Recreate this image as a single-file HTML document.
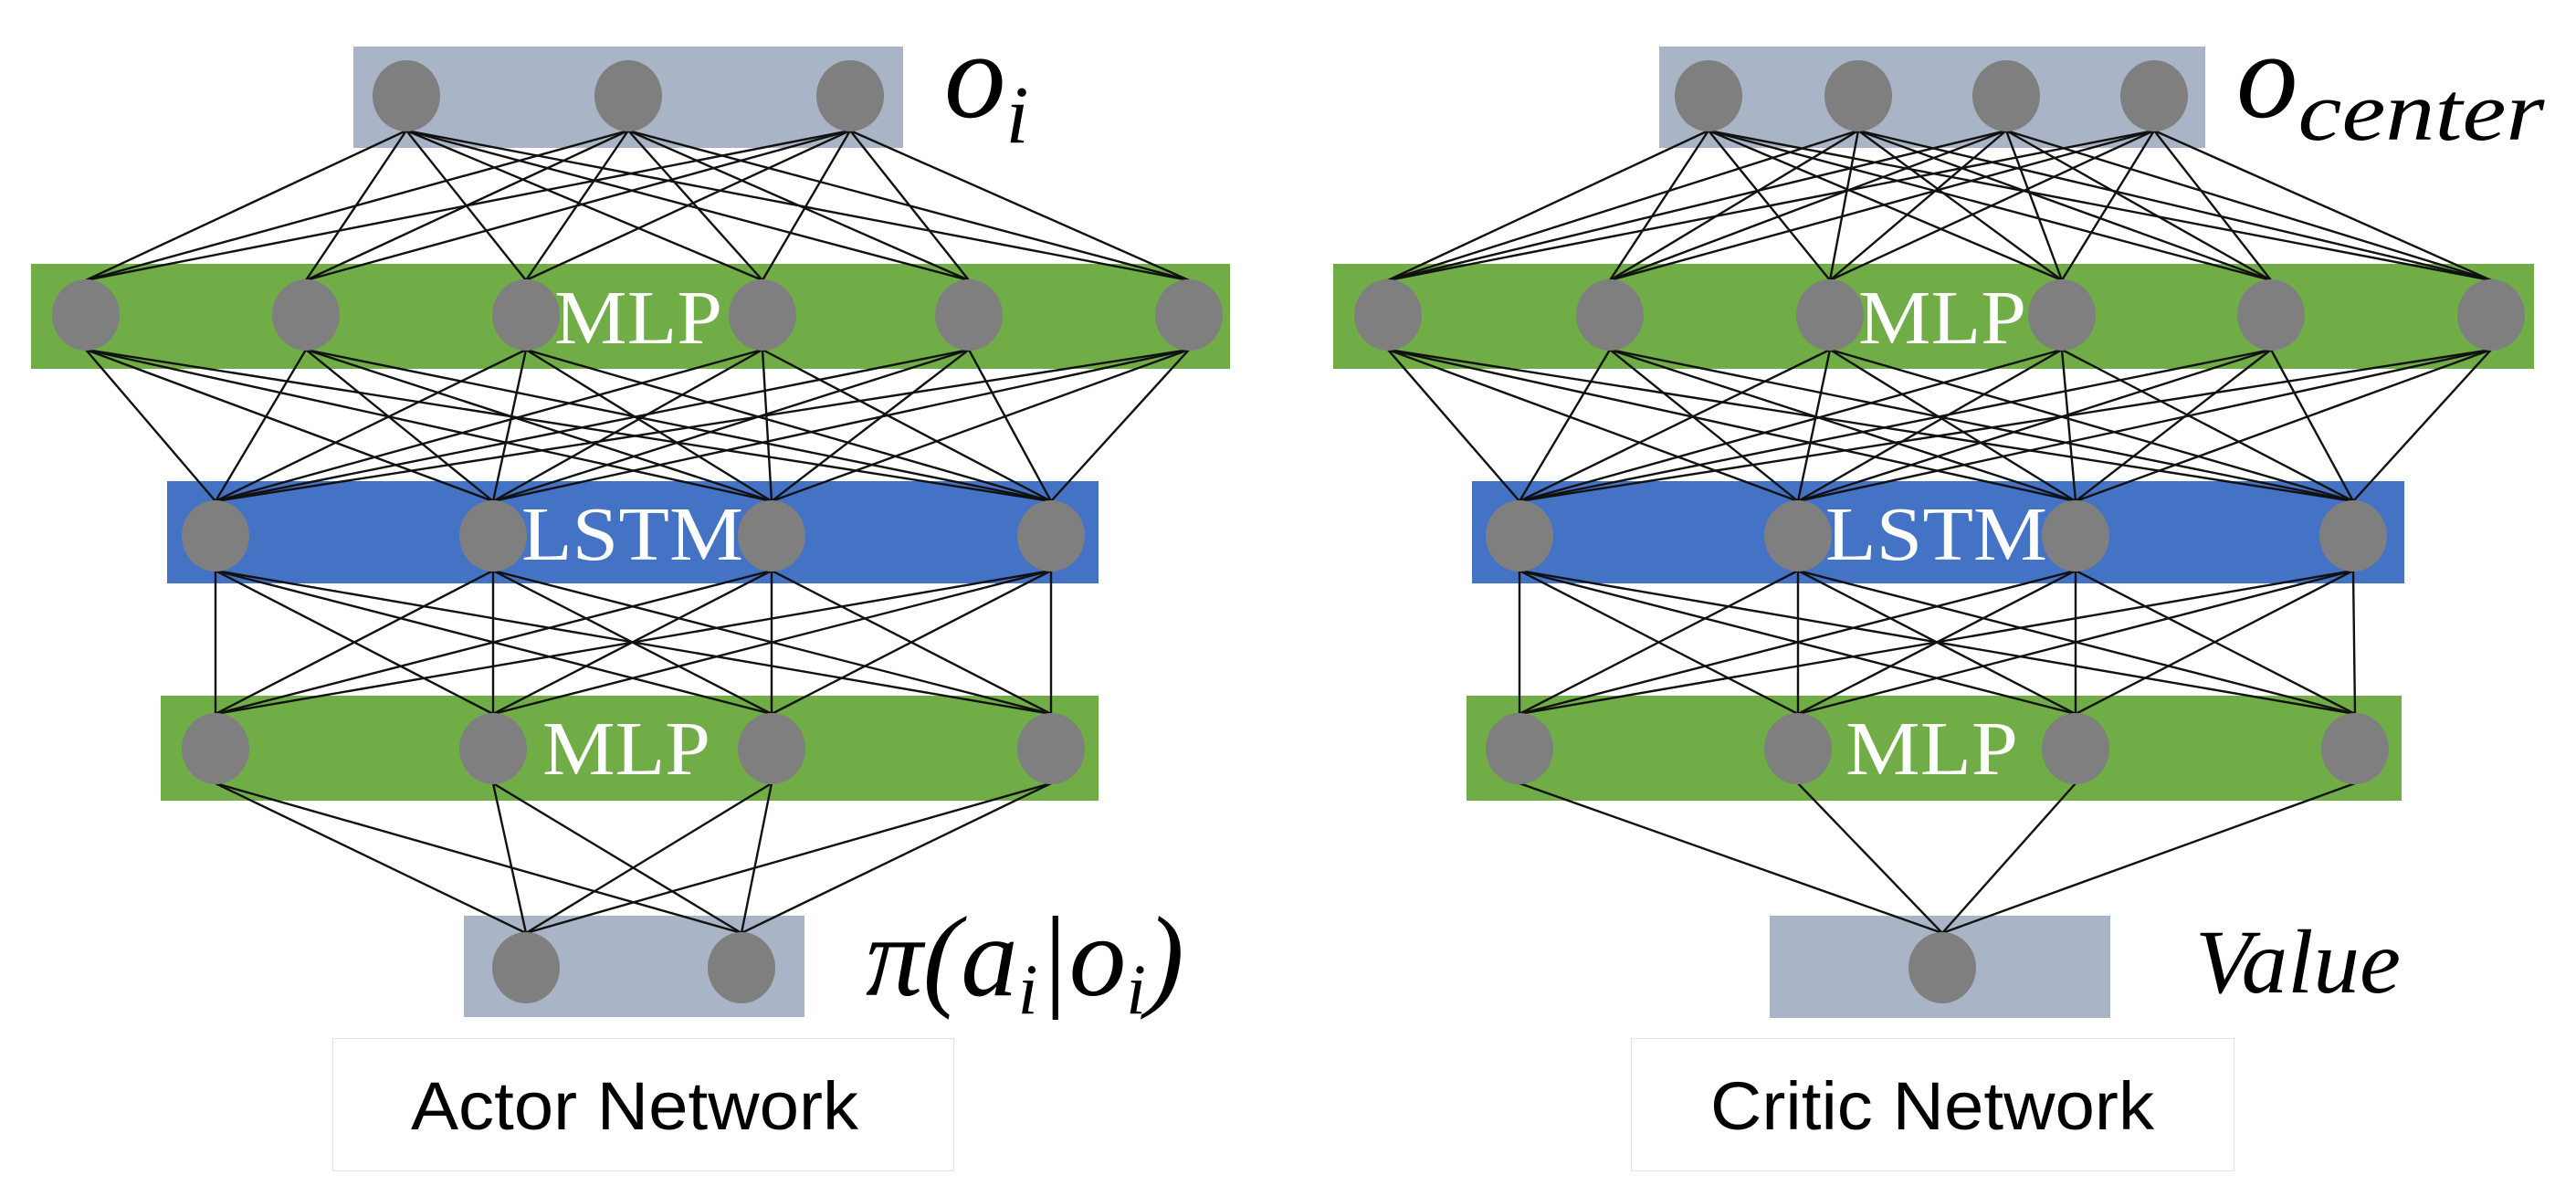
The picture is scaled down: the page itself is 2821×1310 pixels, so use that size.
<!DOCTYPE html>
<html><head><meta charset="utf-8"><style>
html,body{margin:0;padding:0;background:#fff;}
svg{display:block;}
</style></head><body>
<svg id="s" width="2821" height="1310" viewBox="0 0 2821 1310" xmlns="http://www.w3.org/2000/svg">
<rect x="0" y="0" width="2821" height="1310" fill="#fff"/>
<!-- Actor -->
<rect x="387" y="51" width="602" height="111" fill="#A9B4C6"/>
<rect x="34" y="289" width="1313" height="115" fill="#70AD47"/>
<rect x="183" y="527" width="1020" height="112" fill="#4472C4"/>
<rect x="176" y="762" width="1027" height="115" fill="#70AD47"/>
<rect x="508" y="1003" width="373" height="111" fill="#A9B4C6"/>
<rect x="364.5" y="1137.5" width="680" height="145" fill="#fff" stroke="#e3e3e3" stroke-width="1"/>
<!-- Critic -->
<rect x="1817" y="51" width="598" height="111" fill="#A9B4C6"/>
<rect x="1460" y="289" width="1315" height="115" fill="#70AD47"/>
<rect x="1612" y="527" width="1021" height="112" fill="#4472C4"/>
<rect x="1606" y="762" width="1024" height="115" fill="#70AD47"/>
<rect x="1938" y="1003" width="373" height="112" fill="#A9B4C6"/>
<rect x="1786.5" y="1137.5" width="660" height="145" fill="#fff" stroke="#e3e3e3" stroke-width="1"/>
<g id="lines" stroke="#111" stroke-width="2.4"></g>
<g id="nodes" fill="#7F7F7F"></g>
<g font-family="Liberation Serif, serif" fill="#fff" font-size="84">
<text x="607" y="376" textLength="184" lengthAdjust="spacingAndGlyphs">MLP</text>
<text x="571" y="613" textLength="243" lengthAdjust="spacingAndGlyphs">LSTM</text>
<text x="594" y="848" textLength="184" lengthAdjust="spacingAndGlyphs">MLP</text>
<text x="2035" y="376" textLength="184" lengthAdjust="spacingAndGlyphs">MLP</text>
<text x="1999" y="613" textLength="243" lengthAdjust="spacingAndGlyphs">LSTM</text>
<text x="2021" y="848" textLength="189" lengthAdjust="spacingAndGlyphs">MLP</text>
</g>
<g font-family="Liberation Serif, serif" font-style="italic" fill="#000">
<text x="1034" y="128" font-size="135">o<tspan font-size="90" dy="28">i</tspan></text>
<text x="2449" y="128" font-size="135">o<tspan font-size="92" dy="25" textLength="270" lengthAdjust="spacingAndGlyphs">center</tspan></text>
<text x="948" y="1090" font-size="125">π(a<tspan font-size="78" dy="20">i</tspan><tspan dy="-20">|o</tspan><tspan font-size="78" dy="20">i</tspan><tspan dy="-20">)</tspan></text>
<text x="2404" y="1087" font-size="100" textLength="225" lengthAdjust="spacingAndGlyphs">Value</text>
</g>
<g font-family="Liberation Sans, Arial, sans-serif" font-size="74" fill="#000">
<text x="450" y="1237" textLength="490" lengthAdjust="spacingAndGlyphs">Actor Network</text>
<text x="1873" y="1237" textLength="486" lengthAdjust="spacingAndGlyphs">Critic Network</text>
</g>
</svg>
<script>
(function(){
var NS="http://www.w3.org/2000/svg",R=38;
var nets=[
 [[[445,688,931],105],[[94,335,576,835,1061,1302],345],[[236,540,845,1151],587],[[236,540,845,1151],820],[[576,812],1060]],
 [[[1871,2035,2197,2359],105],[[1520,1763,2004,2258,2487,2728],345],[[1664,1969,2273,2577],587],[[1664,1969,2273,2579],820],[[2127],1060]]
];
var L=document.getElementById('lines'),N=document.getElementById('nodes');
nets.forEach(function(n){
 for(var i=0;i<n.length-1;i++){
  var a=n[i],b=n[i+1];
  a[0].forEach(function(x1){b[0].forEach(function(x2){
   var l=document.createElementNS(NS,'line');
   l.setAttribute('x1',x1);l.setAttribute('y1',a[1]+R);
   l.setAttribute('x2',x2);l.setAttribute('y2',b[1]-R);
   L.appendChild(l);
  });});
 }
 n.forEach(function(layer){layer[0].forEach(function(x){
  var c=document.createElementNS(NS,'ellipse');
  c.setAttribute('cx',x);c.setAttribute('cy',layer[1]);
  c.setAttribute('rx',37);c.setAttribute('ry',39);
  N.appendChild(c);
 });});
});
})();
</script>
</body></html>
